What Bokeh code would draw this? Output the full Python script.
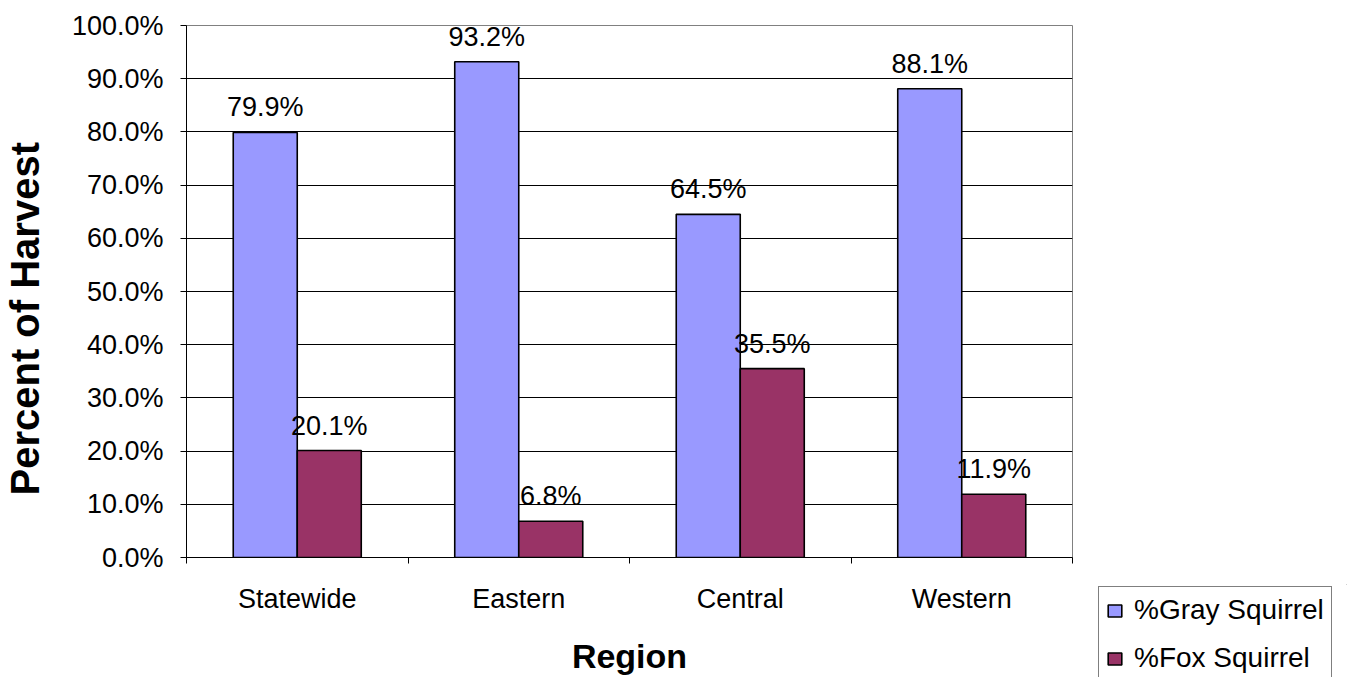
import math
from bokeh.plotting import figure
from bokeh.layouts import row, column
from bokeh.models import (ColumnDataSource, Range1d, FixedTicker, NumeralTickFormatter,
                          Legend, LegendItem, Label, Spacer)
from bokeh.core.properties import value
from bokeh.embed import file_html
from bokeh.resources import INLINE

# ---- data ----
categories = ["Statewide", "Eastern", "Central", "Western"]
gray_pct = [79.9, 93.2, 64.5, 88.1]
fox_pct = [20.1, 6.8, 35.5, 11.9]
series_names = ["%Gray Squirrel", "%Fox Squirrel"]
y_ticks = [0.0, 0.1, 0.2, 0.3, 0.4, 0.5, 0.6, 0.7, 0.8, 0.9, 1.0]
x_title = "Region"
y_title = "Percent of Harvest"

FONT = "Liberation Sans"
GRAY_COLOR = "#9999FF"
FOX_COLOR = "#993366"
BAR_W = 0.289

centers = [i + 0.5 for i in range(len(categories))]
boundaries = [float(i) for i in range(len(categories) + 1)]

src = ColumnDataSource(dict(
    xg=[c - BAR_W / 2 for c in centers],
    xf=[c + BAR_W / 2 for c in centers],
    g=[v / 100 for v in gray_pct],
    f=[v / 100 for v in fox_pct],
    gl=[f"{v:.1f}%" for v in gray_pct],
    fl=[f"{v:.1f}%" for v in fox_pct],
))

# ---- y title strip (its frame is aligned with the main frame by the row layout) ----
tf = figure(width=50, height=677, output_backend="svg", toolbar_location=None,
            x_axis_location=None, y_axis_location=None, min_border=0,
            x_range=Range1d(0, 1), y_range=Range1d(0, 1))
tf.outline_line_color = None
tf.grid.visible = False
tf.border_fill_color = "white"
tf.background_fill_color = "white"
tf.add_layout(Label(x=24, y=62, x_units="screen", y_units="screen", text=y_title,
                    angle=math.pi / 2, text_align="left", text_baseline="middle",
                    text_font=FONT, text_font_size="40px", text_font_style="bold",
                    text_color="black"))

# ---- main chart ----
p = figure(width=1040, height=677, output_backend="svg", toolbar_location=None,
           x_range=Range1d(0, len(categories)), y_range=Range1d(0, 1),
           min_border_left=136, min_border_right=18, min_border_top=25, min_border_bottom=120)
p.background_fill_color = "white"
p.border_fill_color = "white"
p.outline_line_color = "#808080"
p.outline_line_width = 1

rg = p.vbar(x="xg", top="g", width=BAR_W, source=src, fill_color=GRAY_COLOR,
            line_color="black", line_width=1.6)
rf = p.vbar(x="xf", top="f", width=BAR_W, source=src, fill_color=FOX_COLOR,
            line_color="black", line_width=1.6)

for xc, yc, tc in (("xg", "g", "gl"), ("xf", "f", "fl")):
    p.text(x=xc, y=yc, text=tc, source=src, text_font=value(FONT), text_font_size="27px",
           text_align="center", text_baseline="middle", y_offset=-25, text_color="black")

xa = p.xaxis[0]
xa.ticker = FixedTicker(ticks=centers, minor_ticks=boundaries)
xa.major_label_overrides = {c: name for c, name in zip(centers, categories)}
xa.major_tick_line_color = None
xa.major_tick_out = 6
xa.major_tick_in = 0
xa.minor_tick_line_color = "black"
xa.minor_tick_out = 6
xa.minor_tick_in = 0
xa.axis_line_color = "black"
xa.major_label_text_font = FONT
xa.major_label_text_font_size = "27px"
xa.major_label_text_color = "black"
xa.major_label_standoff = 20
xa.axis_label = x_title
xa.axis_label_text_font = FONT
xa.axis_label_text_font_size = "34px"
xa.axis_label_text_font_style = "bold"
xa.axis_label_text_color = "black"
xa.axis_label_standoff = 20

ya = p.yaxis[0]
ya.ticker = FixedTicker(ticks=y_ticks)
ya.formatter = NumeralTickFormatter(format="0.0%")
ya.major_tick_out = 6
ya.major_tick_in = 0
ya.major_tick_line_color = "black"
ya.minor_tick_line_color = None
ya.axis_line_color = "black"
ya.major_label_text_font = FONT
ya.major_label_text_font_size = "27px"
ya.major_label_text_color = "black"
ya.major_label_standoff = 17

p.xgrid.visible = False
p.ygrid.ticker = FixedTicker(ticks=y_ticks)
p.ygrid.grid_line_color = "black"
p.ygrid.grid_line_width = 1

# ---- legend panel ----
lf = figure(width=257, height=93, output_backend="svg", toolbar_location=None,
            x_axis_location=None, y_axis_location=None, min_border=0,
            x_range=Range1d(0, 1), y_range=Range1d(0, 1))
lf.outline_line_color = None
lf.grid.visible = False
lf.border_fill_color = "white"
lf.background_fill_color = "white"
# placeholder bars lying outside the panel's ranges, only so the legend shows their swatches
lg = lf.vbar(x=[5], top=[3], bottom=[2], width=0.1, fill_color=GRAY_COLOR,
             line_color="black", line_width=1.6)
lx = lf.vbar(x=[5], top=[3], bottom=[2], width=0.1, fill_color=FOX_COLOR,
             line_color="black", line_width=1.6)

legend = Legend(items=[LegendItem(label=series_names[0], renderers=[lg]),
                       LegendItem(label=series_names[1], renderers=[lx])],
                location=(8, -5))
legend.border_line_color = "black"
legend.border_line_width = 1
legend.background_fill_color = "white"
legend.background_fill_alpha = 1
legend.padding = 7
legend.spacing = 16
legend.margin = 0
legend.label_height = 32
legend.glyph_height = 15
legend.glyph_width = 17
legend.label_standoff = 11
legend.label_text_font = FONT
legend.label_text_font_size = "28px"
legend.label_text_color = "black"
lf.add_layout(legend)

layout = row(tf, p, column(Spacer(width=257, height=584), lf))

open("out.html", "w").write(file_html(layout, INLINE))
